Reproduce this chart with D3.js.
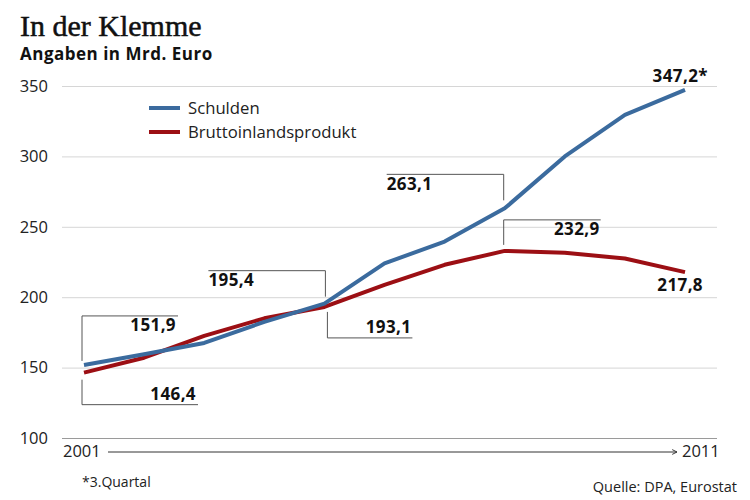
<!DOCTYPE html>
<html><head><meta charset="utf-8">
<script src="https://cdn.jsdelivr.net/npm/d3@7"></script>
<style>
body{margin:0;background:#fff;}
svg{display:block;}
text{font-family:"Open Sans",sans-serif;}
</style></head>
<body>
<svg id="c" width="750" height="500"></svg>
<script>
const years = [2001,2002,2003,2004,2005,2006,2007,2008,2009,2010,2011];
const schulden = [151.9,159.5,167.5,182.5,195.4,224,239.5,263.1,300,329.5,347.2];
const bip = [146.4,157,172.5,185,193.1,208.8,223,232.9,231.5,227.5,217.8];
const yTicks = [100,150,200,250,300,350];
const seriesNames = ["Schulden","Bruttoinlandsprodukt"];
const colors = ["#3b6b9e","#9c0f14"];

const svg = d3.select("#c");
const x = d3.scaleLinear().domain([2001,2011]).range([84,685]);
const y = d3.scaleLinear().domain([100,350]).range([438,86]);
const fmt = v => d3.format(".1f")(v).replace(".", ",");

// Title
svg.append("text").attr("x",20).attr("y",36).text("In der Klemme")
  .style("font-family","'Liberation Serif',serif").style("font-size","30px")
  .attr("fill","#111").attr("stroke","#111").attr("stroke-width",0.5);
svg.append("text").attr("x",20).attr("y",60).text("Angaben in Mrd. Euro")
  .style("font-size","17px").style("font-weight","700").style("letter-spacing","0.5px").attr("fill","#111");

// grid / y axis
const gAxis = svg.append("g").attr("transform","translate(62,0)")
  .call(d3.axisLeft(y).tickValues(yTicks).tickSize(-655).tickPadding(14).tickFormat(d3.format("d")));
gAxis.select(".domain").remove();
gAxis.selectAll(".tick line").attr("stroke", d => d===100 ? "#9a9a9a" : "#d6d6d6");
gAxis.selectAll(".tick text").style("font-family","'Open Sans',sans-serif").style("font-size","16.5px").attr("fill","#222");

// x axis arrow
svg.append("defs").append("marker").attr("id","arr").attr("viewBox","0 0 10 10")
  .attr("refX",9).attr("refY",5).attr("markerWidth",6).attr("markerHeight",6).attr("orient","auto")
  .append("path").attr("d","M1,1 L9,5 L1,9").attr("fill","none").attr("stroke","#333").attr("stroke-width",1.6);
svg.append("line").attr("x1",108).attr("x2",677).attr("y1",452).attr("y2",452)
  .attr("stroke","#333").attr("stroke-width",1).attr("marker-end","url(#arr)");
svg.append("text").attr("x",63).attr("y",457).text(years[0]).style("font-size","16.5px").attr("fill","#222");
svg.append("text").attr("x",682).attr("y",457).text(years[years.length-1]).style("font-size","16.5px").attr("fill","#222");

// lines
const line = d3.line().x((d,i)=>x(years[i])).y(d=>y(d));
[bip, schulden].forEach((s,k)=>{
  const c = k===0 ? colors[1] : colors[0];
  svg.append("path").datum(s).attr("d",line).attr("fill","none").attr("stroke",c)
    .attr("stroke-width",4).attr("stroke-linejoin","round");
});

// legend
seriesNames.forEach((n,i)=>{
  const ly = 108 + i*24;
  svg.append("line").attr("x1",149).attr("x2",180).attr("y1",ly).attr("y2",ly)
    .attr("stroke",colors[i]).attr("stroke-width",4);
  svg.append("text").attr("x",188).attr("y",ly+6).text(n).style("font-size","16.7px").attr("fill","#222");
});

// annotations
const ann = svg.append("g");
function path(pts){ ann.append("path").attr("d",d3.line()(pts)).attr("fill","none").attr("stroke","#555").attr("stroke-width",1); }
function label(tx,ty,t,anchor){ ann.append("text").attr("x",tx).attr("y",ty).attr("text-anchor",anchor).text(t)
  .style("font-size","17px").style("font-weight","700").style("letter-spacing","0.4px").attr("fill","#111"); }

// 151,9
let px = x(years[0]), py = y(schulden[0]);
path([[px-2,py-4],[px-2,py-49],[px+94,py-49]]); label(px+92,py-34,fmt(schulden[0]),"end");
// 146,4
py = y(bip[0]);
path([[px-2,py+7],[px-2,py+32],[px+114,py+32]]); label(px+112,py+27,fmt(bip[0]),"end");
// 195,4
px = x(years[4]); py = y(schulden[4]);
path([[px-116,py-33],[px+1,py-33],[px+1,py-7]]); label(px-116,py-18,fmt(schulden[4]),"start");
// 193,1
py = y(bip[4]);
path([[px+3,py+5],[px+3,py+31],[px+88,py+31]]); label(px+87,py+26,fmt(bip[4]),"end");
// 263,1
px = x(years[7]); py = y(schulden[7]);
path([[px-118,py-34],[px-1,py-34],[px-1,py-8]]); label(px-118,py-18,fmt(schulden[7]),"start");
// 232,9
py = y(bip[7]);
path([[px-1,py-6],[px-1,py-31],[px+96,py-31]]); label(px+95,py-16,fmt(bip[7]),"end");
// end labels
px = x(years[10]);
label(px+23, y(schulden[10])-8, fmt(schulden[10])+"*","end");
label(px+18, y(bip[10])+19, fmt(bip[10]),"end");

// footnotes
svg.append("text").attr("x",82).attr("y",487).text("*3.Quartal").style("font-size","14px").attr("fill","#222");
svg.append("text").attr("x",737).attr("y",492).attr("text-anchor","end").text("Quelle: DPA, Eurostat").style("font-size","14.5px").attr("fill","#222");
</script>
</body></html>
